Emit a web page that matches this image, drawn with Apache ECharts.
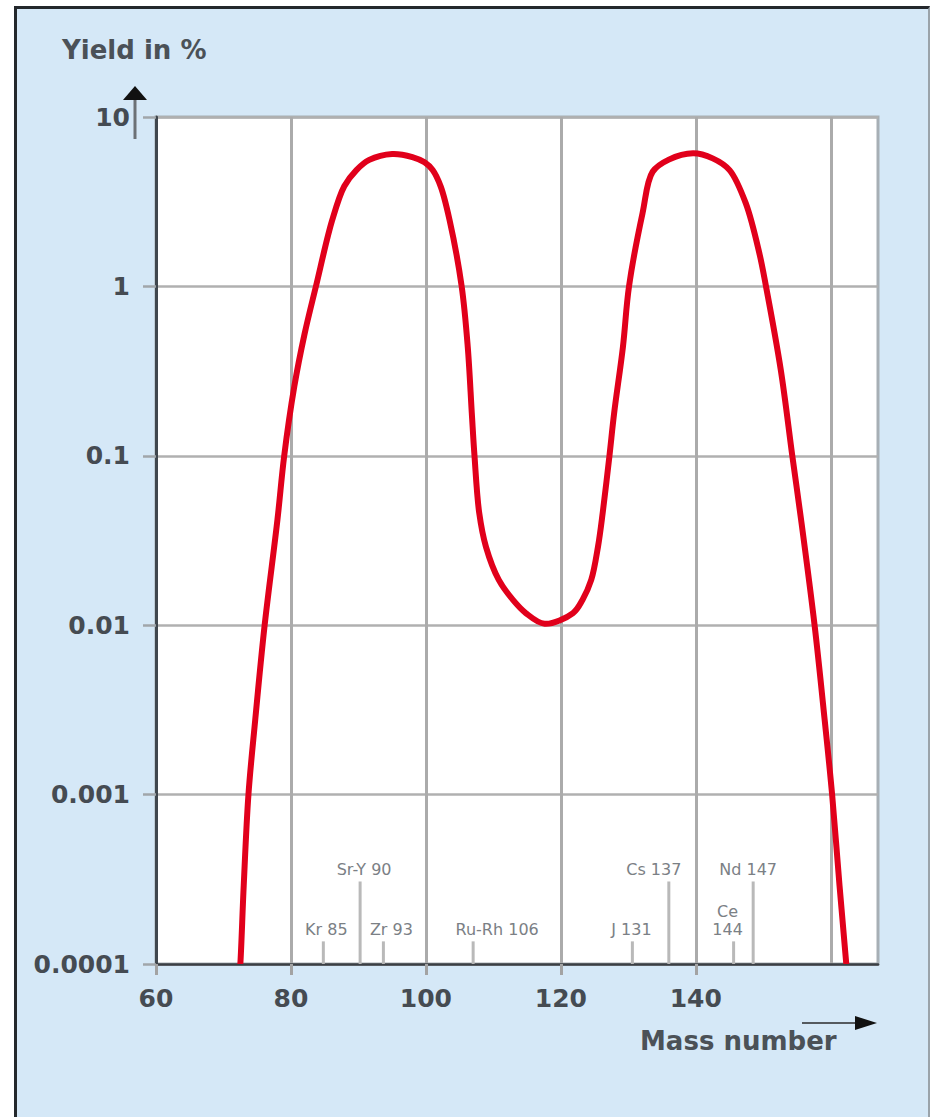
<!DOCTYPE html>
<html>
<head>
<meta charset="utf-8">
<script src="https://cdn.jsdelivr.net/npm/echarts@6/dist/echarts.min.js"></script>
<style>
  html, body { margin: 0; padding: 0; background: #ffffff; }
  #panel { position: absolute; left: 14px; top: 6px; width: 916px; height: 1111px;
           background: #d5e8f7; border-left: 3px solid #24282c; border-top: 3px solid #24282c;
           border-right: 2px solid #9aa3aa; box-sizing: border-box; }
  #chart { position: absolute; left: 0; top: 0; width: 932px; height: 1117px; }
</style>
</head>
<body>
<div id="panel"></div>
<div id="chart"></div>
<script>
// ---- data ----
const massNumber = [72.2, 72.5, 73.0, 73.7, 74.7, 76.1, 78.0, 79.0, 80.5, 82.0, 83.7, 86.1, 87.9, 89.7, 91.6, 95.0,
  98.0, 99.8, 101.0, 102.2, 103.5, 105.3, 106.2, 106.8, 107.2, 107.9, 108.9, 110.8, 112.9, 114.8, 117.6,
  121.8, 123.2, 124.5, 125.5, 126.2, 127.2, 127.9, 129.2, 130.1, 132.1, 133.6, 136.0, 139.6, 142.5, 145.0,
  147.4, 149.4, 150.4, 152.6, 154.3, 155.6, 157.6, 159.1, 160.2, 161.3, 162.3, 162.6];
const yieldPct = [0.00007, 0.0001, 0.00029, 0.001, 0.00275, 0.01, 0.042, 0.1, 0.257, 0.52, 1.0, 2.45, 3.9, 4.86, 5.58, 6.05,
  5.8, 5.4, 4.86, 3.88, 2.47, 1.0, 0.44, 0.179, 0.1, 0.046, 0.029, 0.0185, 0.0141, 0.0118, 0.0102,
  0.0118, 0.0141, 0.0185, 0.029, 0.046, 0.1, 0.179, 0.44, 1.0, 2.7, 4.75, 5.6, 6.1, 5.7, 4.86,
  3.1, 1.58, 1.0, 0.32, 0.1, 0.042, 0.01, 0.00275, 0.001, 0.00029, 0.0001, 0.00007];

const xTicks = [60, 80, 100, 120, 140, 160];
const yTickLabels = ['0.0001', '0.001', '0.01', '0.1', '1', '10'];

const isoNames = ['Kr 85', 'Sr-Y 90', 'Zr 93', 'Ru-Rh 106', 'J 131', 'Cs 137', 'Ce\n144', 'Nd 147'];
const isoMass  = [84.8, 90.25, 93.7, 107.0, 130.6, 136.0, 145.6, 148.5];
const isoTop   = [0.000136, 0.000307, 0.000136, 0.000136, 0.000136, 0.000307, 0.000136, 0.000307];

// ---- styling (pixel offsets of isotope labels relative to their lines) ----
const isoLabelDx = [3, 4, 8, 24, -1, -15, -6, -5];

const chart = echarts.init(document.getElementById('chart'), null, { renderer: 'svg' });

const curve = massNumber.map((m, i) => [m, yieldPct[i]]);
const isoData = isoMass.map((m, i) => [m, isoTop[i], i]);

const numFont = { fontFamily: 'DejaVu Sans', fontWeight: 'bold', fontSize: 25, color: '#454b52' };

// centripetal Catmull-Rom spline through pixel points (points come from api.coord)
function splinePath(pts) {
  const a = 0.5;
  let d = 'M' + pts[0][0] + ' ' + pts[0][1];
  for (let i = 0; i < pts.length - 1; i++) {
    const p0 = pts[Math.max(i - 1, 0)], p1 = pts[i], p2 = pts[i + 1], p3 = pts[Math.min(i + 2, pts.length - 1)];
    const dist = (u, v) => Math.hypot(v[0] - u[0], v[1] - u[1]);
    const d1 = Math.pow(dist(p0, p1), a), d2 = Math.pow(dist(p1, p2), a), d3 = Math.pow(dist(p2, p3), a);
    let b1, b2;
    if (d1 < 1e-6) { b1 = p1; } else {
      const k = 3 * d1 * (d1 + d2);
      b1 = [0, 1].map(j => (d1 * d1 * p2[j] - d2 * d2 * p0[j] + (2 * d1 * d1 + 3 * d1 * d2 + d2 * d2) * p1[j]) / k);
    }
    if (d3 < 1e-6) { b2 = p2; } else {
      const k = 3 * d3 * (d3 + d2);
      b2 = [0, 1].map(j => (d3 * d3 * p1[j] - d2 * d2 * p3[j] + (2 * d3 * d3 + 3 * d3 * d2 + d2 * d2) * p2[j]) / k);
    }
    d += ' C' + b1[0] + ' ' + b1[1] + ' ' + b2[0] + ' ' + b2[1] + ' ' + p2[0] + ' ' + p2[1];
  }
  return d;
}

chart.setOption({
  backgroundColor: 'transparent',
  animation: false,
  grid: {
    left: 156, right: 54, top: 117, bottom: 153,
    show: true, backgroundColor: '#ffffff', borderColor: '#a7afb5', borderWidth: 3
  },
  xAxis: {
    type: 'value', min: 60, max: 167, interval: 20,
    axisLine: { show: true, onZero: false, lineStyle: { color: '#3a3f45', width: 2.5 } },
    axisTick: { show: true, length: 11, customValues: xTicks, lineStyle: { color: '#a3a3a3', width: 3 } },
    axisLabel: Object.assign({ margin: 22, customValues: xTicks, showMaxLabel: false }, numFont),
    splitLine: { show: true, lineStyle: { color: '#ababab', width: 3 } }
  },
  yAxis: {
    type: 'log', logBase: 10, min: 0.0001, max: 10,
    axisLine: { show: true, lineStyle: { color: '#40474e', width: 3 } },
    axisTick: { show: true, length: 13, lineStyle: { color: '#a0a6aa', width: 2.5 } },
    axisLabel: Object.assign({
      margin: 26,
      formatter: function (v) { return yTickLabels[Math.round(Math.log10(v)) + 4]; }
    }, numFont),
    minorTick: { show: false },
    splitLine: { show: true, lineStyle: { color: '#b0b0b0', width: 2.5 } }
  },
  graphic: [
    { type: 'text', left: 62, top: 37, style: { text: 'Yield in %', fontFamily: 'DejaVu Sans', fontWeight: 'bold', fontSize: 26, fill: '#4b5157' } },
    { type: 'text', left: 640, top: 1028, style: { text: 'Mass number', fontFamily: 'DejaVu Sans', fontWeight: 'bold', fontSize: 26, fill: '#4b5157' } },
    { type: 'line', shape: { x1: 135, y1: 139, x2: 135, y2: 98 }, style: { stroke: '#6c7176', lineWidth: 3 } },
    { type: 'polygon', shape: { points: [[123, 100], [147, 100], [135, 86]] }, style: { fill: '#111111' } },
    { type: 'line', shape: { x1: 802, y1: 1023, x2: 858, y2: 1023 }, style: { stroke: '#555a5f', lineWidth: 2 } },
    { type: 'polygon', shape: { points: [[855, 1016], [855, 1030], [877, 1023]] }, style: { fill: '#111111' } }
  ],
  series: [
    {
      type: 'custom',
      coordinateSystem: 'cartesian2d',
      data: isoData,
      z: 3,
      silent: true,
      renderItem: function (params, api) {
        const m = api.value(0), top = api.value(1), idx = api.value(2);
        const p0 = api.coord([m, 0.0001]);
        const p1 = api.coord([m, top]);
        return {
          type: 'group',
          children: [
            { type: 'line', shape: { x1: p0[0], y1: p0[1], x2: p1[0], y2: p1[1] },
              style: { stroke: '#b9b9b9', lineWidth: 3 } },
            { type: 'text', x: p1[0] + isoLabelDx[idx], y: p1[1] - 3,
              style: { text: isoNames[idx], fontFamily: 'DejaVu Sans', fontSize: 16, lineHeight: 18,
                       fill: '#7b8085', align: 'center', verticalAlign: 'bottom' } }
          ]
        };
      }
    },
    {
      // the fission-yield curve: every point goes through the axes' scales (api.coord)
      type: 'custom',
      name: 'Yield',
      coordinateSystem: 'cartesian2d',
      data: [curve[0]],
      z: 5,
      silent: true,
      renderItem: function (params, api) {
        if (params.dataIndex !== 0) return null;
        const pts = curve.map(c => api.coord(c));
        const cs = params.coordSys;
        return {
          type: 'path',
          shape: { pathData: splinePath(pts) },
          clipPath: { type: 'rect', shape: { x: cs.x, y: cs.y - 20, width: cs.width, height: cs.height + 20 } },
          style: { fill: 'none', stroke: '#e1001b', lineWidth: 6, lineJoin: 'round' }
        };
      }
    }
  ]
});
</script>
</body>
</html>
